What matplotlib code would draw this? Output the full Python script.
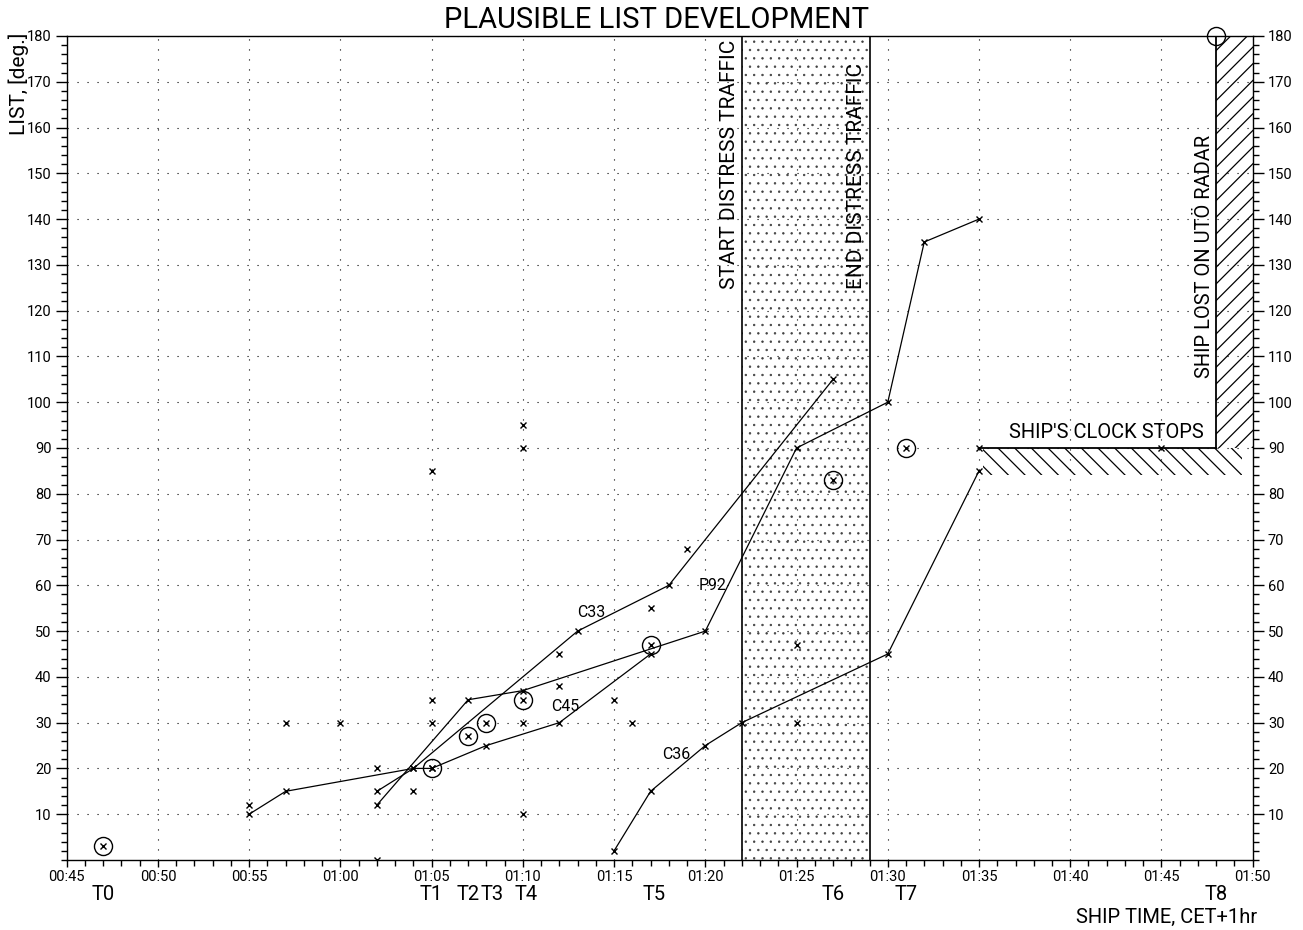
import numpy as np
import matplotlib.pyplot as plt
from matplotlib.ticker import MultipleLocator, FuncFormatter

plt.rcParams['font.family'] = ['Roboto', 'DejaVu Sans']

# time in minutes after midnight (ship time), list in degrees
c45_t = [55, 57, 64, 65, 68, 72, 77]
c45_v = [10, 15, 20, 20, 25, 30, 45]
c33_t = [62, 64, 73, 78, 87]
c33_v = [15, 20, 50, 60, 105]
p92_t = [62, 67, 70, 80, 85, 90, 92, 95]
p92_v = [12, 35, 37, 50, 90, 100, 135, 140]
c36_t = [75, 77, 80, 82, 90, 95]
c36_v = [2, 15, 25, 30, 45, 85]

# single observations
single_t = [55, 57, 60, 62, 62, 64, 65, 65, 65, 70, 70, 70, 70, 72, 72, 75, 76, 77, 79, 85, 85, 95, 105]
single_v = [12, 30, 30, 20, 0, 15, 35, 30, 85, 95, 90, 30, 10, 45, 38, 35, 30, 55, 68, 47, 30, 90, 90]

# circled observations
circ_t = [47, 65, 67, 68, 70, 77, 87, 91]
circ_v = [3, 20, 27, 30, 35, 47, 83, 90]

lost_t, lost_v = 108, 180

t_marks = [47, 65, 67.0, 68.3, 70.2, 77.2, 87, 91, 108]
t_names = ['T0', 'T1', 'T2', 'T3', 'T4', 'T5', 'T6', 'T7', 'T8']

distress_start, distress_end = 82, 89
clock_stop_t = [95, 108]
clock_stop_v = 90

fig = plt.figure(figsize=(13.03, 9.30), dpi=100)
ax = fig.add_axes([0.0512, 0.0753, 0.9102, 0.886])
ax.set_xlim(45, 110)
ax.set_ylim(0, 180)

# stippled distress traffic period
with plt.rc_context({'hatch.linewidth': 0.5, 'hatch.color': '0.25'}):
    ax.axvspan(distress_start, distress_end, facecolor='none', edgecolor='0.25',
               hatch='..', lw=0, zorder=1)
ax.axvline(distress_start, color='k', lw=1.2, zorder=3)
ax.axvline(distress_end, color='k', lw=1.2, zorder=3)

# clock stops / ship lost hatching
with plt.rc_context({'hatch.linewidth': 0.9}):
    ax.fill_between([clock_stop_t[0] + 0.2, 109.4], clock_stop_v - 6, clock_stop_v,
                    facecolor='none', edgecolor='k', hatch='\\\\', lw=0, zorder=1)
    ax.fill_between([clock_stop_t[1], 110], clock_stop_v, 180,
                    facecolor='none', edgecolor='k', hatch='//', lw=0, zorder=1)
ax.plot(clock_stop_t, [clock_stop_v, clock_stop_v], color='k', lw=1.3, zorder=3)
ax.plot([clock_stop_t[1], clock_stop_t[1]], [clock_stop_v, 180], color='k', lw=1.3, zorder=3)

for t, v in [(c45_t, c45_v), (c33_t, c33_v), (p92_t, p92_v), (c36_t, c36_v)]:
    ax.plot(t, v, color='k', lw=0.9, marker='x', ms=5, mew=1, zorder=4)

ax.plot(single_t, single_v, ls='none', color='k', marker='x', ms=5, mew=1, zorder=4)
ax.plot(circ_t, circ_v, ls='none', color='k', marker='x', ms=5, mew=1, zorder=4)
ax.plot(circ_t, circ_v, ls='none', marker='o', ms=13, mfc='none', mec='k', mew=1, zorder=4)
ax.plot([lost_t], [lost_v], ls='none', marker='o', ms=13, mfc='none', mec='k', mew=1,
        zorder=5, clip_on=False)

# line labels
for x, y, s in [(73.76, 54.1, 'C33'), (72.3, 33.6, 'C45'), (80.4, 59.9, 'P92'), (78.4, 23.0, 'C36')]:
    ax.text(x, y, s, fontsize=11.5, ha='center', va='center')

ax.text(81.35, 124.8, 'START DISTRESS TRAFFIC', rotation=90, fontsize=15, ha='center', va='bottom')
ax.text(88.3, 124.8, 'END DISTRESS TRAFFIC', rotation=90, fontsize=15, ha='center', va='bottom')
ax.text(107.35, 105.3, 'SHIP LOST ON UTÖ RADAR', rotation=90, fontsize=14.5, ha='center', va='bottom')
ax.text(107.3, 91.3, "SHIP'S CLOCK STOPS", fontsize=14.5, ha='right', va='bottom')

for t, name in zip(t_marks, t_names):
    ax.text(t, -0.042, name, transform=ax.get_xaxis_transform(), fontsize=14.5,
            ha='center', va='center')

# axes, ticks and grid
ax.xaxis.set_major_locator(MultipleLocator(5))
ax.xaxis.set_minor_locator(MultipleLocator(1))
ax.xaxis.set_major_formatter(FuncFormatter(lambda m, p: f'{int(m) // 60:02d}:{int(m) % 60:02d}'))
ax.set_yticks(np.arange(10, 181, 10))
ax.yaxis.set_minor_locator(MultipleLocator(2))
ax.tick_params(which='both', direction='out', right=True, labelright=True, labelsize=10.5,
               width=1, colors='k')
ax.tick_params(axis='y', which='major', length=8, pad=3)
ax.tick_params(axis='y', which='minor', length=4)
ax.tick_params(axis='x', which='major', length=5, pad=2)
ax.tick_params(axis='x', which='minor', length=4)
ax.grid(which='major', color='k', lw=0.8, ls=(0, (1, 8)))
ax.set_axisbelow(True)
for s in ax.spines.values():
    s.set_linewidth(1.0)

fig.text(657 / 1303, 1 - 20 / 930, 'PLAUSIBLE LIST DEVELOPMENT', fontsize=21,
         ha='center', va='center')
fig.text(19 / 1303, 1 - 33 / 930, 'LIST, [deg.]', rotation=90, fontsize=15, ha='center', va='top')
fig.text(1257 / 1303, 1 - 917 / 930, 'SHIP TIME, CET+1hr', fontsize=14.5, ha='right', va='center')

fig.savefig('out.png', dpi=100)
